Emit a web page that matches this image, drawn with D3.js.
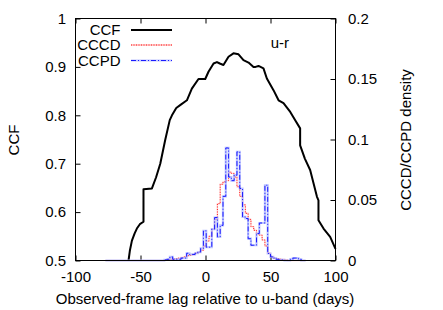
<!DOCTYPE html>
<html>
<head>
<meta charset="utf-8">
<script src="https://cdn.jsdelivr.net/npm/d3@7"></script>
<style>
  body { margin: 0; background: #fff; }
  text { font-family: "Liberation Sans", Arial, sans-serif; font-size: 15px; fill: #000; }
</style>
</head>
<body>
<svg id="canvas_ccf"></svg>
<script>
// CCF curve (lag in days, r)
let ccfLag = [-59.2, -58.2, -56.6, -54.5, -52.8, -50.5, -47.7, -47.7, -41.2, -38, -34.8, -31, -27.5, -25.8, -22.5, -19.5,
    -14.3, -10.5, -5.4, -0.2, 2.3, 6.2, 8.8, 11, 13.8, 17.7, 21.5, 25.4, 29.2, 33.1, 36.9, 38.5, 40.8, 44.6, 47.2,
    52.3, 56.2, 60, 65.2, 69, 72.8, 72.8, 76.5, 80.5, 85.7, 86.9, 86.9, 90.8, 95.9, 100]
let ccfValue = [0.5, 0.52, 0.541, 0.556, 0.566, 0.575, 0.58, 0.647, 0.649, 0.672, 0.7, 0.749, 0.79, 0.8, 0.815, 0.821,
    0.831, 0.855, 0.875, 0.875, 0.89, 0.907, 0.91, 0.907, 0.904, 0.921, 0.928, 0.926, 0.914, 0.909, 0.9, 0.9, 0.902, 0.897, 0.876,
    0.852, 0.831, 0.825, 0.807, 0.79, 0.773, 0.738, 0.71, 0.687, 0.632, 0.624, 0.583, 0.566, 0.549, 0.524]

// histogram bins (left edge, days) and densities
let binWidth = 2.15
let histSpan = [-77, 77]
let binLeft = [-31.7, -29.55, -27.4, -25.25, -23.1, -20.95, -18.8, -16.65, -14.5, -12.35, -10.2, -8.05, -5.9, -3.75,
    -1.6, 0.55, 2.7, 4.85, 7.0, 9.15, 11.3, 13.45, 15.6, 17.75, 19.9, 22.05, 24.2, 26.35, 28.5, 30.65, 32.8, 34.95,
    37.1, 39.25, 41.4, 43.55, 45.7, 47.85, 50.0, 52.15, 54.3, 56.45, 58.6, 60.75, 62.9, 65.05, 67.2, 69.35, 71.5, 73.65]
let cccd = [0.0005, 0.0008, 0.001, 0.0012, 0.0015, 0.002, 0.0025, 0.003, 0.004, 0.0044, 0.005, 0.006, 0.007, 0.0085,
    0.012, 0.016, 0.02, 0.026, 0.034, 0.047, 0.063, 0.065, 0.066, 0.073, 0.072, 0.069, 0.061, 0.053, 0.046, 0.039, 0.034, 0.028,
    0.025, 0.022, 0.021, 0.017, 0.012, 0.006, 0.003, 0.002, 0.0015, 0.001, 0.0008, 0.0005, 0, 0, 0, 0, 0, 0]
let ccpd = [0.0005, 0.001, 0.003, 0.001, 0.001, 0.001, 0.002, 0.002, 0.006, 0.005, 0.005, 0.006, 0.007, 0.01,
    0.0245, 0.011, 0.011, 0.026, 0.0355, 0.0195, 0.029, 0.053, 0.093, 0.069, 0.066, 0.0705, 0.0898, 0.0595, 0.036, 0.0347, 0.018, 0.0126,
    0.0126, 0.0223, 0.031, 0.031, 0.0622, 0.0058, 0.003, 0.002, 0.001, 0.0005, 0.0005, 0, 0, 0.001, 0.002, 0.002, 0.001, 0]

let xTicks = [-100, -50, 0, 50, 100]
let yTicks = [0.5, 0.6, 0.7, 0.8, 0.9, 1]
let y2Ticks = [0, 0.05, 0.1, 0.15, 0.2]

let width = 443, height = 310
let plotLeft = 75.5, plotRight = 335.5, plotTop = 18.5, plotBottom = 260.5

let svg = d3.select('#canvas_ccf')
    .attr('width', width)
    .attr('height', height)

let x = d3.scaleLinear().domain([-100, 100]).range([plotLeft, plotRight])
let y = d3.scaleLinear().domain([0.5, 1]).range([plotBottom, plotTop])
let y2 = d3.scaleLinear().domain([0, 0.2]).range([plotBottom, plotTop])

let fmt = (d) => String(+d.toFixed(2))

let axisStyle = (g) => {
    g.select('.domain').remove()
    g.selectAll('line').attr('stroke', '#000').attr('stroke-width', 1)
    g.selectAll('text').attr('font-size', null).attr('font-family', null)
}

svg.append('g')
    .attr('transform', 'translate(0,' + plotBottom + ')')
    .call(d3.axisBottom(x).tickValues(xTicks).tickFormat(fmt).tickSizeInner(-5).tickSizeOuter(0).tickPadding(10.5))
    .call(axisStyle)
svg.append('g')
    .attr('transform', 'translate(0,' + plotTop + ')')
    .call(d3.axisTop(x).tickValues(xTicks).tickFormat('').tickSizeInner(-5).tickSizeOuter(0))
    .call(axisStyle)
svg.append('g')
    .attr('transform', 'translate(' + plotLeft + ',0)')
    .call(d3.axisLeft(y).tickValues(yTicks).tickFormat(fmt).tickSizeInner(-5).tickSizeOuter(0).tickPadding(9.5))
    .call(axisStyle)
svg.append('g')
    .attr('transform', 'translate(' + plotRight + ',0)')
    .call(d3.axisRight(y2).tickValues(y2Ticks).tickFormat(fmt).tickSizeInner(-5).tickSizeOuter(0).tickPadding(12.5))
    .call(axisStyle)

// step outline for a histogram
let stepPoints = (values) => {
    let pts = [[histSpan[0], 0], [binLeft[0], 0]]
    binLeft.forEach((b, i) => {
        pts.push([b, values[i]])
        pts.push([b + binWidth, values[i]])
    })
    pts.push([binLeft[binLeft.length - 1] + binWidth, 0])
    pts.push([histSpan[1], 0])
    return pts
}
let histLine = d3.line().x((p) => x(p[0])).y((p) => y2(p[1]))

let plot = svg.append('g')

// CCF
plot.append('path')
    .datum(ccfLag.map((l, i) => [l, ccfValue[i]]))
    .attr('d', d3.line().x((p) => x(p[0])).y((p) => y(p[1])))
    .attr('fill', 'none')
    .attr('stroke', '#000')
    .attr('stroke-width', 2)
    .attr('stroke-linejoin', 'round')

// CCCD
plot.append('path')
    .datum(stepPoints(cccd))
    .attr('d', histLine)
    .attr('fill', 'none')
    .attr('stroke', '#ffb4b4')
    .attr('stroke-width', 1.4)
    .attr('stroke-opacity', 0.6)
plot.append('path')
    .datum(stepPoints(cccd))
    .attr('d', histLine)
    .attr('fill', 'none')
    .attr('stroke', '#ff1a1a')
    .attr('stroke-width', 1)
    .attr('stroke-dasharray', '1,1.5')

// CCPD
plot.append('path')
    .datum(stepPoints(ccpd))
    .attr('d', histLine)
    .attr('fill', 'none')
    .attr('stroke', '#a8b2ff')
    .attr('stroke-width', 2.2)
    .attr('stroke-opacity', 0.75)
plot.append('path')
    .datum(stepPoints(ccpd))
    .attr('d', histLine)
    .attr('fill', 'none')
    .attr('stroke', '#1a1aff')
    .attr('stroke-width', 1)
    .attr('stroke-dasharray', '5,2,1,2')

// frame
svg.append('rect')
    .attr('x', plotLeft).attr('y', plotTop)
    .attr('width', plotRight - plotLeft).attr('height', plotBottom - plotTop)
    .attr('fill', 'none')
    .attr('stroke', '#000')
    .attr('stroke-width', 1)

// legend
let legend = [
    {name: 'CCF', y: 35, color: '#000', width: 2, dash: null, under: null},
    {name: 'CCCD', y: 50, color: '#ff1a1a', width: 1, dash: '1,1.5', under: '#ffb4b4'},
    {name: 'CCPD', y: 65.5, color: '#1a1aff', width: 1, dash: '5,2,1,2', under: '#a8b2ff'}
]
legend.forEach((l) => {
    svg.append('text')
        .attr('x', 120.5).attr('y', l.y)
        .attr('text-anchor', 'end')
        .text(l.name)
    if (l.under) {
        svg.append('line')
            .attr('x1', 131).attr('x2', 172).attr('y1', l.y - 5).attr('y2', l.y - 5)
            .attr('stroke', l.under).attr('stroke-width', 1.8).attr('stroke-opacity', 0.7)
    }
    svg.append('line')
        .attr('x1', 131).attr('x2', 172).attr('y1', l.y - 5).attr('y2', l.y - 5)
        .attr('stroke', l.color).attr('stroke-width', l.width)
        .attr('stroke-dasharray', l.dash)
})

svg.append('text')
    .attr('x', 270.7).attr('y', 48)
    .text('u-r')

// axis titles
svg.append('text')
    .attr('x', 205).attr('y', 304)
    .attr('text-anchor', 'middle')
    .text('Observed-frame lag relative to u-band (days)')
svg.append('text')
    .attr('transform', 'translate(18.5,140) rotate(-90)')
    .attr('text-anchor', 'middle')
    .text('CCF')
svg.append('text')
    .attr('transform', 'translate(410.5,140) rotate(-90)')
    .attr('text-anchor', 'middle')
    .text('CCCD/CCPD density')
</script>
</body>
</html>
